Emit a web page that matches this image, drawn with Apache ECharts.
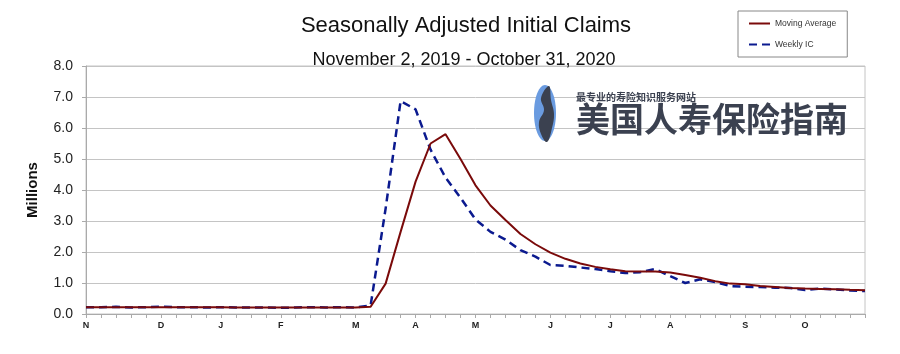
<!DOCTYPE html>
<html>
<head>
<meta charset="utf-8">
<script src="https://cdn.jsdelivr.net/npm/echarts@6/dist/echarts.min.js"></script>
<style>html,body{margin:0;padding:0;background:#fff;}#c{width:900px;height:354px;}</style>
</head>
<body>
<div id="c"></div>
<script>
var weekEnding = ['Nov 2','Nov 9','Nov 16','Nov 23','Nov 30','Dec 7','Dec 14','Dec 21','Dec 28',
  'Jan 4','Jan 11','Jan 18','Jan 25','Feb 1','Feb 8','Feb 15','Feb 22','Feb 29',
  'Mar 7','Mar 14','Mar 21','Mar 28','Apr 4','Apr 11','Apr 18','Apr 25',
  'May 2','May 9','May 16','May 23','May 30','Jun 6','Jun 13','Jun 20','Jun 27',
  'Jul 4','Jul 11','Jul 18','Jul 25','Aug 1','Aug 8','Aug 15','Aug 22','Aug 29',
  'Sep 5','Sep 12','Sep 19','Sep 26','Oct 3','Oct 10','Oct 17','Oct 24','Oct 31'];
var xLabelIndex = [0,5,9,13,18,22,26,31,35,39,44,48];
var xLabelText  = ['N','D','J','F','M','A','M','J','J','A','S','O'];
var yTicks = [0,1,2,3,4,5,6,7,8];
var movingAverage = [0.22,0.22,0.22,0.22,0.22,0.22,0.22,0.22,0.22,0.22,0.21,0.21,0.21,0.21,0.21,0.21,0.21,0.21,0.21,
  0.235,0.98,2.65,4.27,5.5,5.8,5.0,4.15,3.5,3.03,2.58,2.25,1.98,1.78,1.63,1.52,1.44,1.38,1.37,1.37,1.34,1.26,1.17,1.06,
  0.98,0.96,0.90,0.87,0.84,0.82,0.81,0.80,0.78,0.77];
var weeklyIC = [0.22,0.22,0.23,0.21,0.22,0.24,0.22,0.22,0.21,0.22,0.21,0.21,0.21,0.20,0.21,0.22,0.21,0.22,0.21,
  0.28,3.4,6.87,6.6,5.3,4.4,3.75,3.05,2.65,2.4,2.06,1.85,1.58,1.55,1.5,1.45,1.38,1.32,1.35,1.45,1.22,1.0,1.12,1.03,
  0.9,0.88,0.87,0.85,0.84,0.77,0.82,0.79,0.76,0.74];

var FONT = '"Liberation Sans", Arial, sans-serif';
var chart = echarts.init(document.getElementById('c'), null, {renderer:'canvas'});
chart.setOption({
  backgroundColor:'#ffffff',
  animation:false,
  title:[
    {text:'Seasonally Adjusted Initial Claims', left:461, top:10, textAlign:'center',
     textStyle:{fontFamily:FONT, fontSize:22, fontWeight:'normal', color:'#111'}},
    {text:'November 2, 2019 - October 31, 2020', left:459, top:46, textAlign:'center',
     textStyle:{fontFamily:FONT, fontSize:18, fontWeight:'normal', color:'#111'}}
  ],
  legend:{
    orient:'vertical', left:738, top:11,
    padding:[8,11,8,10], itemGap:12, itemWidth:21, itemHeight:10,
    borderColor:'#888', borderWidth:1, backgroundColor:'#fff',
    itemStyle:{opacity:0},
    data:['Moving Average','Weekly IC'],
    textStyle:{fontFamily:FONT, fontSize:8.5, color:'#333'}
  },
  grid:{left:86, right:35, top:66, bottom:40, show:true, borderColor:'#c4c4c4', borderWidth:1},
  xAxis:{
    type:'category', data:weekEnding, boundaryGap:false,
    axisLine:{lineStyle:{color:'#aaa'}},
    axisTick:{show:true, interval:0, length:4, lineStyle:{color:'#aaa'}},
    axisLabel:{interval:0, margin:7, fontFamily:FONT, fontSize:9, fontWeight:'bold', color:'#222',
      formatter:function(v, i){ var k = xLabelIndex.indexOf(i); return k >= 0 ? xLabelText[k] : ''; }},
    splitLine:{show:false}
  },
  yAxis:{
    type:'value', min:yTicks[0], max:yTicks[yTicks.length-1], interval:1,
    name:'Millions', nameLocation:'middle', nameGap:46, nameRotate:90,
    nameTextStyle:{fontFamily:FONT, fontSize:15, fontWeight:'bold', color:'#111'},
    axisLine:{show:true, lineStyle:{color:'#aaa'}},
    axisTick:{show:true, length:4, lineStyle:{color:'#aaa'}},
    axisLabel:{margin:13, fontFamily:FONT, fontSize:14, color:'#222', formatter:function(v){return v.toFixed(1);}},
    splitLine:{lineStyle:{color:'#c4c4c4', width:1}}
  },
  graphic:[
    {type:'ellipse', shape:{cx:545, cy:113, rx:11, ry:28}, style:{fill:'#6a9be0'}, z:100},
    {type:'polygon', shape:{points:[[549,86],[541,98],[544,110],[539,122],[541,134],[547,142],[552,128],[554,114],[551,100]], smooth:0.4}, style:{fill:'#3b4150'}, z:101},
    {type:'text', left:576, top:92, style:{text:'最专业的寿险知识服务网站', fontFamily:'"Noto Sans CJK SC"', fontSize:10, fontWeight:'bold', fill:'#3b4150'}, z:100},
    {type:'text', left:576, top:102, style:{text:'美国人寿保险指南', fontFamily:'"Noto Sans CJK SC"', fontSize:34, fontWeight:'bold', fill:'#3b4150'}, z:100}
  ],
  series:[
    {name:'Weekly IC', type:'line', data:weeklyIC, symbol:'none', z:2,
     lineStyle:{color:'#0b1a8f', width:2.5, type:[8,5]}, itemStyle:{color:'#0b1a8f'}},
    {name:'Moving Average', type:'line', data:movingAverage, symbol:'none', z:3,
     lineStyle:{color:'#7a0a0a', width:2}, itemStyle:{color:'#7a0a0a'}}
  ]
});
</script>
</body>
</html>
